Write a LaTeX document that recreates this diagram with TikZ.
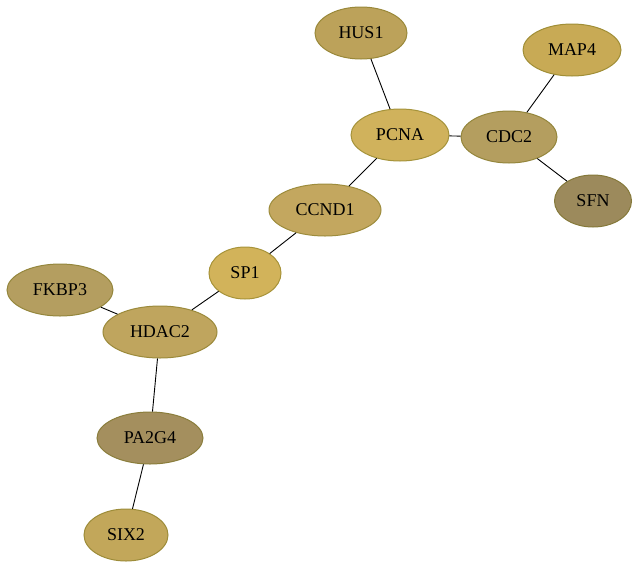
\documentclass[tikz,border=0pt]{standalone}
\usepackage{fontspec}
\setmainfont{Liberation Serif}
\usetikzlibrary{shapes.geometric}
\begin{document}
\begin{tikzpicture}[x=1pt,y=-1pt,
  gene/.style={ellipse,draw=#1!70!olive!90!black,fill=#1,line width=1pt,inner sep=0pt,minimum height=52pt,font=\fontsize{18}{20}\selectfont},
  link/.style={black,line width=0.9pt}
]
\useasboundingbox (0,0) rectangle (639,568);
\definecolor{cHUS}{HTML}{BCA25A}
\definecolor{cMAP}{HTML}{C8AA55}
\definecolor{cPCNA}{HTML}{D0B25C}
\definecolor{cCDC}{HTML}{B49E5F}
\definecolor{cSFN}{HTML}{9C8A5C}
\definecolor{cCCND}{HTML}{C3A75F}
\definecolor{cSP}{HTML}{D2B35A}
\definecolor{cFKBP}{HTML}{B49E60}
\definecolor{cHDAC}{HTML}{BFA55E}
\definecolor{cPA}{HTML}{A48F5E}
\definecolor{cSIX}{HTML}{C2A75A}
% upper right cluster
\node[gene=cHUS,minimum width=92pt] (hus1) at (361,33) {HUS1};
\node[gene=cMAP,minimum width=98pt] (map4) at (572,50) {MAP4};
\node[gene=cPCNA,minimum width=98pt] (pcna) at (400,135) {PCNA};
\node[gene=cCDC,minimum width=96pt] (cdc2) at (509,137) {CDC2};
\node[gene=cSFN,minimum width=77pt] (sfn) at (593,201) {SFN};
% middle chain
\node[gene=cCCND,minimum width=112pt] (ccnd1) at (325,210) {CCND1};
\node[gene=cSP,minimum width=72pt] (sp1) at (245,273) {SP1};
% lower left cluster
\node[gene=cFKBP,minimum width=106pt] (fkbp3) at (60,290) {FKBP3};
\node[gene=cHDAC,minimum width=114pt] (hdac2) at (160,332) {HDAC2};
\node[gene=cPA,minimum width=106pt] (pa2g4) at (150,438) {PA2G4};
\node[gene=cSIX,minimum width=84pt] (six2) at (126,535) {SIX2};

% edges
\draw[link] (hus1) -- (pcna);
\draw[link] (pcna) -- (cdc2);
\draw[link] (cdc2) -- (map4);
\draw[link] (cdc2) -- (sfn);
\draw[link] (pcna) -- (ccnd1);
\draw[link] (ccnd1) -- (sp1);
\draw[link] (sp1) -- (hdac2);
\draw[link] (hdac2) -- (fkbp3);
\draw[link] (hdac2) -- (pa2g4);
\draw[link] (pa2g4) -- (six2);
\end{tikzpicture}
\end{document}
